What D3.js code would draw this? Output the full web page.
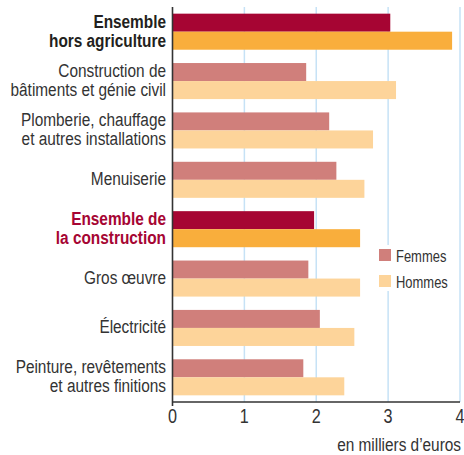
<!DOCTYPE html>
<html>
<head>
<meta charset="utf-8">
<script src="https://cdn.jsdelivr.net/npm/d3@7"></script>
<style>
  body { margin: 0; background: #fff; }
  svg { display: block; font-family: "Liberation Sans", Arial, sans-serif; }
</style>
</head>
<body>
<svg width="464" height="455"></svg>
<script>
// categories (label lines), top to bottom
const categories = [
  ['Ensemble', 'hors agriculture'],
  ['Construction de', 'bâtiments et génie civil'],
  ['Plomberie, chauffage', 'et autres installations'],
  ['Menuiserie'],
  ['Ensemble de', 'la construction'],
  ['Gros œuvre'],
  ['Électricité'],
  ['Peinture, revêtements', 'et autres finitions']
];
// monthly wage, thousands of euros
const femmes = [3.03, 1.86, 2.18, 2.28, 1.97, 1.89, 2.05, 1.82];
const hommes = [3.89, 3.11, 2.79, 2.67, 2.61, 2.61, 2.53, 2.39];
const seriesNames = ['Femmes', 'Hommes'];
const ticks = [0, 1, 2, 3, 4];
const axisTitle = 'en milliers d\u2019euros';

// "ensemble" rows get the strong colours
const totalRows = [0, 4];

// the original font is a condensed grotesque: squeeze Liberation Sans
const SQ = 0.81;

let svg = d3.select('svg');

let x = d3.scaleLinear().domain([0, 4]).range([172.5, 460]);
let y = d3.scaleBand()
  .domain(d3.range(categories.length))
  .range([7, 402])
  .paddingInner(0.27)
  .paddingOuter(0.135);

let colF = (i) => totalRows.includes(i) ? '#a60533' : '#d07f7b';
let colH = (i) => totalRows.includes(i) ? '#f9ae3c' : '#fdd49a';

function narrowText(parent, tx, ty, size, anchor) {
  return parent.append('text')
    .attr('transform', `translate(${tx},${ty}) scale(${SQ},1)`)
    .attr('text-anchor', anchor)
    .attr('font-size', size)
    .attr('fill', '#333');
}

// gridlines
svg.append('g')
  .selectAll('line')
  .data(ticks.slice(1))
  .enter().append('line')
  .attr('x1', (d) => x(d))
  .attr('x2', (d) => x(d))
  .attr('y1', 7)
  .attr('y2', 402)
  .attr('stroke', '#c6e2f6')
  .attr('stroke-width', 1.5);

let bh = y.bandwidth() / 2;

let rows = svg.append('g')
  .selectAll('g')
  .data(categories)
  .enter().append('g');

rows.append('rect')
  .attr('x', x(0))
  .attr('y', (d, i) => y(i))
  .attr('width', (d, i) => x(femmes[i]) - x(0))
  .attr('height', bh)
  .attr('fill', (d, i) => colF(i));

rows.append('rect')
  .attr('x', x(0))
  .attr('y', (d, i) => y(i) + bh)
  .attr('width', (d, i) => x(hommes[i]) - x(0))
  .attr('height', bh)
  .attr('fill', (d, i) => colH(i));

// category labels
rows.each(function(d, i) {
  let cy = y(i) + y.bandwidth() / 2;
  let lh = 19;
  let y0 = cy - (d.length - 1) * lh / 2 + 5.5;
  let t = narrowText(d3.select(this), 166, y0, 19, 'end')
    .attr('font-weight', totalRows.includes(i) ? 'bold' : 'normal')
    .attr('fill', i === 0 ? '#231f20' : (i === 4 ? '#a60533' : '#333'));
  d.forEach((s, k) => {
    t.append('tspan')
      .attr('x', 0)
      .attr('y', k * lh)
      .text(s);
  });
});

// legend, white box over the grid
let lg = svg.append('g');
lg.append('rect')
  .attr('x', 374).attr('y', 245)
  .attr('width', 84).attr('height', 46)
  .attr('fill', '#fff');

seriesNames.forEach((s, i) => {
  lg.append('rect')
    .attr('x', 379)
    .attr('y', 249 + i * 26)
    .attr('width', 12)
    .attr('height', 12)
    .attr('fill', i === 0 ? '#d07f7b' : '#fdd49a');
  narrowText(lg, 396, 261.5 + i * 26, 16, 'start').text(s);
});

// axes
svg.append('line')
  .attr('x1', x(0)).attr('x2', x(0))
  .attr('y1', 7).attr('y2', 406)
  .attr('stroke', '#333').attr('stroke-width', 1.6);

svg.append('line')
  .attr('x1', x(0)).attr('x2', x(4))
  .attr('y1', 402).attr('y2', 402)
  .attr('stroke', '#333').attr('stroke-width', 1.6);

let tg = svg.append('g');
ticks.forEach((d) => {
  narrowText(tg, x(d), 423, 20, 'middle').text(d);
});

narrowText(svg, 461, 451, 19, 'end').text(axisTitle);
</script>
</body>
</html>
